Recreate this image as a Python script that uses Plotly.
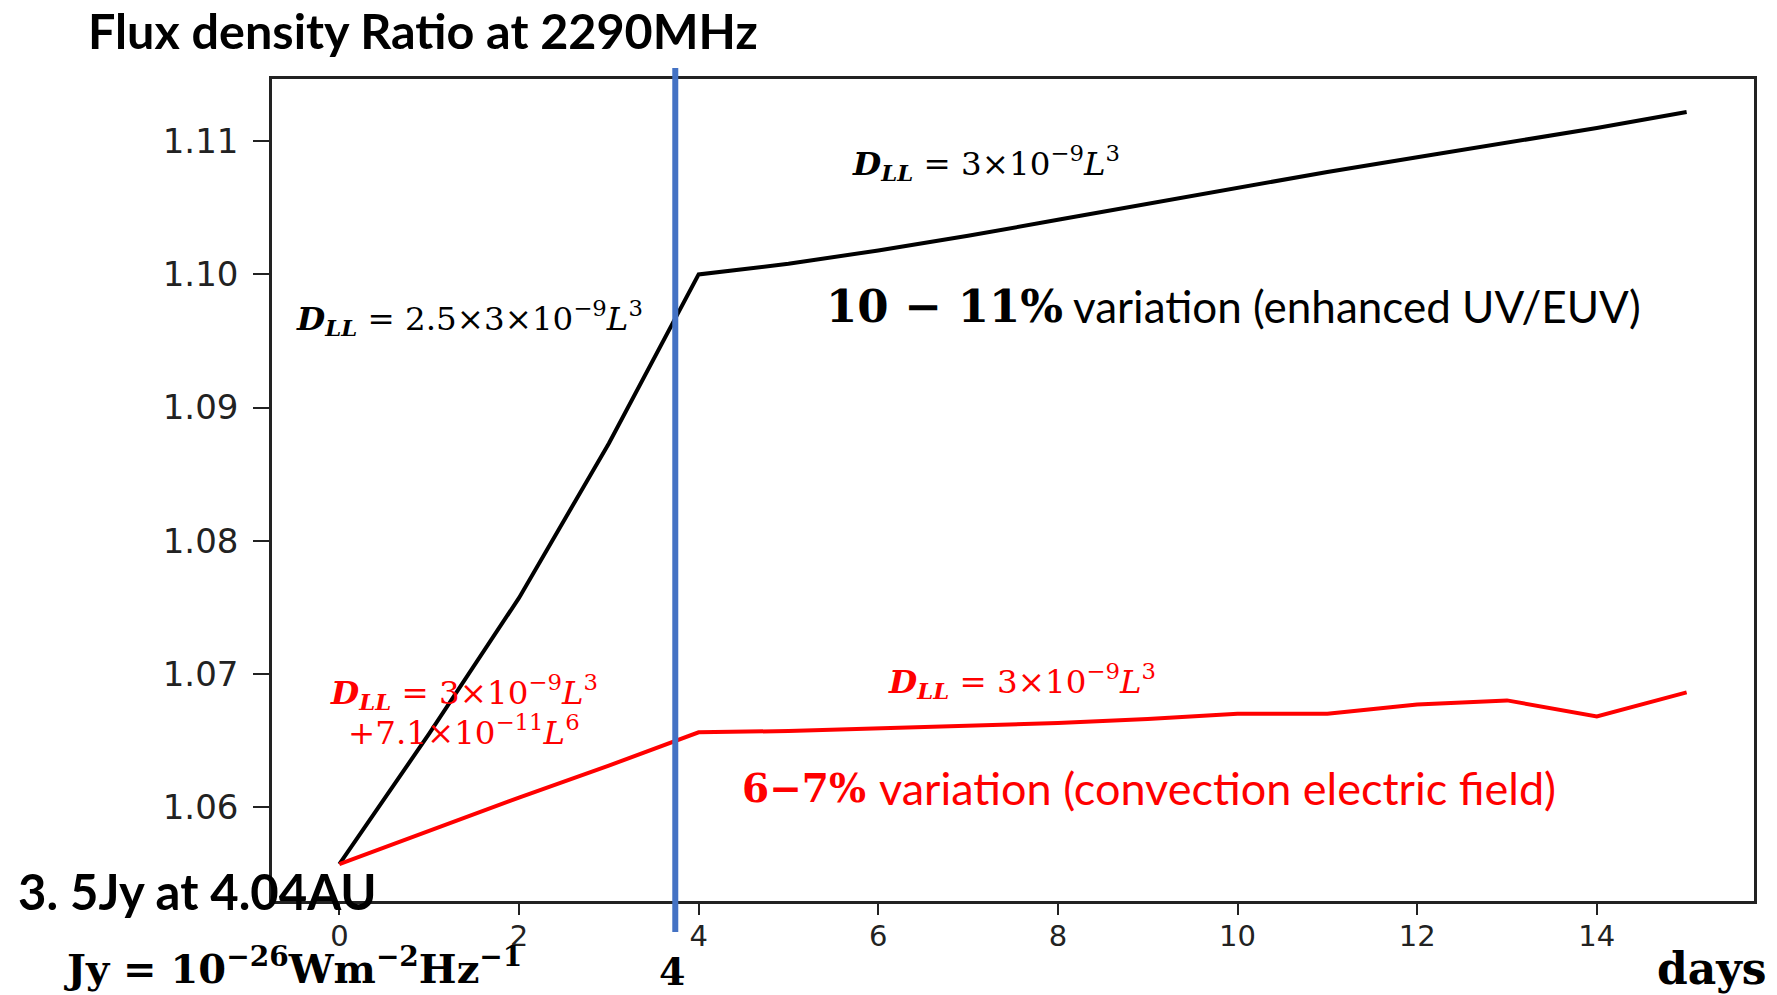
import plotly.graph_objects as go

# ---- data ----
days = [0, 1, 2, 3, 4, 5, 6, 7, 8, 9, 10, 11, 12, 13, 14, 15]
ratio_uv = [1.0557, 1.0655, 1.0757, 1.0873, 1.1000, 1.1008, 1.1018, 1.1029,
            1.1041, 1.1053, 1.1065, 1.1077, 1.1088, 1.1099, 1.1110, 1.1122]
ratio_conv = [1.0557, 1.0582, 1.0607, 1.0631, 1.0656, 1.0657, 1.0659, 1.0661,
              1.0663, 1.0666, 1.0670, 1.0670, 1.0677, 1.0680, 1.0668, 1.0686]
marker_day = 3.74
x_ticks = [0, 2, 4, 6, 8, 10, 12, 14]
x_ticktext = ["0", "2", "4", "6", "8", "10", "12", "14"]
y_ticks = [1.06, 1.07, 1.08, 1.09, 1.10, 1.11]
y_ticktext = ["1.06", "1.07", "1.08", "1.09", "1.10", "1.11"]

W, H = 1777, 995
L, R, T, B = 272, 1754, 79, 901


def px(x):
    return (x - L) / (R - L)


def py(y):
    return (B - y) / (B - T)


fig = go.Figure()
fig.add_trace(go.Scatter(x=days, y=ratio_uv, mode="lines",
                         line=dict(color="black", width=4)))
fig.add_trace(go.Scatter(x=days, y=ratio_conv, mode="lines",
                         line=dict(color="#ff0000", width=4)))

fig.add_shape(type="line", xref="x", yref="paper", x0=marker_day, x1=marker_day,
              y0=py(932), y1=py(68), line=dict(color="#4472C4", width=6), layer="above")

SERIF = "DejaVu Serif"
SANS = "Lato"
DLL = "<b><i>D</i></b><sub><b><i>LL</i></b></sub>"

ann = []


def add(text, x, y, size, family, color="black", xanchor="center", yanchor="middle"):
    ann.append(dict(text=text, x=px(x), y=py(y), xref="paper", yref="paper",
                    xanchor=xanchor, yanchor=yanchor, showarrow=False,
                    font=dict(size=size, family=family, color=color)))


add("<b>Flux density Ratio at 2290MHz</b>", 423, 30, 48.5, SANS)
add(DLL + " = 3×10<sup>−9</sup><i>L</i><sup>3</sup>", 986, 163, 32.5, SERIF)
add(DLL + " = 2.5×3×10<sup>−9</sup><i>L</i><sup>3</sup>", 469, 318, 32.5, SERIF)
add("<b>10 − 11%</b>", 824, 306, 45, SERIF, xanchor="left")
add("variation (enhanced UV/EUV)", 1643, 306, 44, SANS, xanchor="right")
add(DLL + " = 3×10<sup>−9</sup><i>L</i><sup>3</sup>", 464, 692, 32.5, SERIF, color="#ff0000")
add("+7.1×10<sup>−11</sup><i>L</i><sup>6</sup>", 464, 730, 32.5, SERIF, color="#ff0000")
add(DLL + " = 3×10<sup>−9</sup><i>L</i><sup>3</sup>", 1022, 681, 32.5, SERIF, color="#ff0000")
add("<b>6−7%</b>", 740, 788, 39, SERIF, color="#ff0000", xanchor="left")
add("variation (convection electric field)", 1558, 788, 45, SANS, color="#ff0000", xanchor="right")
add("<b>3. 5Jy at 4.04AU</b>", 16, 891, 49, SANS, xanchor="left")
add("<b>Jy = 10<sup>−26</sup>Wm<sup>−2</sup>Hz<sup>−1</sup></b>", 62, 966, 40, SERIF, xanchor="left")
add("<b>4</b>", 672, 971, 38, SERIF)
add("<b>days</b>", 1712, 968, 44, SERIF)

fig.update_layout(
    width=W, height=H,
    margin=dict(l=L, r=W - R, t=T, b=H - B, pad=0),
    paper_bgcolor="white", plot_bgcolor="white",
    showlegend=False,
    annotations=ann,
    xaxis=dict(range=[-0.75, 15.75], tickvals=x_ticks, ticktext=x_ticktext,
               showgrid=False, zeroline=False, showline=True, mirror=True,
               linecolor="#222", linewidth=2.5, ticks="outside", ticklen=11,
               tickwidth=2, tickcolor="#222", ticklabelstandoff=-4,
               tickfont=dict(family="DejaVu Sans", size=29, color="#222")),
    yaxis=dict(range=[1.05293, 1.11468], tickvals=y_ticks, ticktext=y_ticktext,
               showgrid=False, zeroline=False, showline=True, mirror=True,
               linecolor="#222", linewidth=2.5, ticks="outside", ticklen=16,
               tickwidth=2, tickcolor="#222", ticklabelstandoff=8,
               tickfont=dict(family="DejaVu Sans", size=34, color="#222")),
)

fig.write_html("out.html")
